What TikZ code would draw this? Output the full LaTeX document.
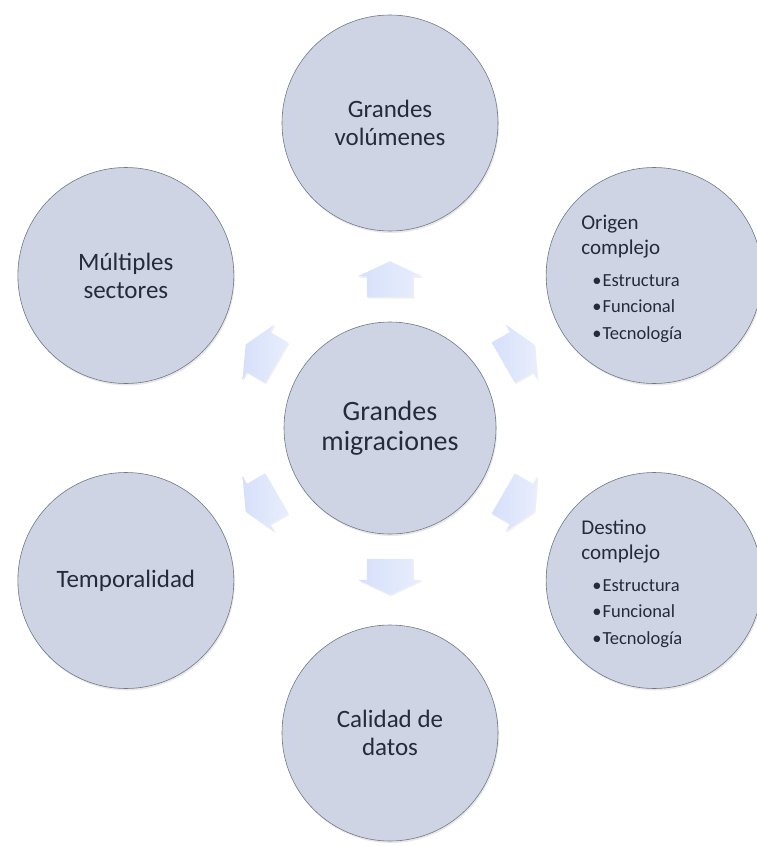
\documentclass[tikz,border=0pt]{standalone}
\usepackage{fontspec}
\setmainfont{Carlito}
\usetikzlibrary{calc,positioning,shapes.arrows,shadows}
\definecolor{circfill}{RGB}{206,212,228}
\definecolor{circline}{RGB}{112,120,134}
\definecolor{arrowfill}{RGB}{214,224,250}
\definecolor{txt}{RGB}{38,43,58}

\newcommand{\itm}[1]{\textbullet\hspace{1pt}#1}

\begin{document}
\begin{tikzpicture}
[x=1pt,y=1pt,
every node/.style={text=txt},
bubble/.style={circle,draw=circline,line width=.6pt,fill=circfill,minimum size=216pt,inner sep=0pt,align=center,
  font=\fontsize{25}{28}\selectfont,drop shadow={opacity=.18,shadow xshift=1pt,shadow yshift=-2pt}},
hub/.style={bubble,minimum size=212pt,font=\fontsize{28}{30}\selectfont},
blockarrow/.style={single arrow,draw=none,left color=arrowfill,right color=arrowfill!55!white,
  minimum height=36pt,minimum width=0pt,inner xsep=0pt,inner ysep=23pt,single arrow head extend=9pt,
  single arrow tip angle=130,drop shadow={opacity=.12,shadow xshift=1pt,shadow yshift=-1.5pt}},
head/.style={align=left,inner sep=0pt,font=\fontsize{21}{25}\selectfont},
list/.style={align=left,inner sep=0pt,font=\fontsize{18.5}{26.5}\selectfont},
level distance=305pt,sibling distance=0pt]
\useasboundingbox (0,0) rectangle (756,-846);
\node[hub] (mig) at (390,-428) {Grandes\\migraciones}
[edge from parent/.style={draw=none}]
child[grow=90] {node[bubble] (vol) {Grandes\\volúmenes}}
child[grow=30] {node[bubble] (ori) {}}
child[grow=-30] {node[bubble] (des) {}}
child[grow=-90] {node[bubble] (cal) {Calidad de\\datos}}
child[grow=-150] {node[bubble] (tem) {Temporalidad}}
child[grow=150] {node[bubble] (mul) {Múltiples\\sectores}};

% texts with bullets
\node[head,anchor=north west] (ori-h) at ([xshift=-73pt,yshift=61pt]ori.center) {Origen\\complejo};
\node[list,below right=16pt and 11pt of ori-h.south west] (ori-l) {\itm{Estructura}\\\itm{Funcional}\\\itm{Tecnología}};
\node[head,anchor=north west] (des-h) at ([xshift=-73pt,yshift=61pt]des.center) {Destino\\complejo};
\node[list,below right=16pt and 11pt of des-h.south west] (des-l) {\itm{Estructura}\\\itm{Funcional}\\\itm{Tecnología}};

% arrows
\foreach \n/\a in {vol/90,ori/30,des/-30,cal/-90,tem/-150,mul/150}
  \node[blockarrow,rotate=\a] (to-\n) at ($(mig)!.47!(\n)$) {};
\end{tikzpicture}
\end{document}
